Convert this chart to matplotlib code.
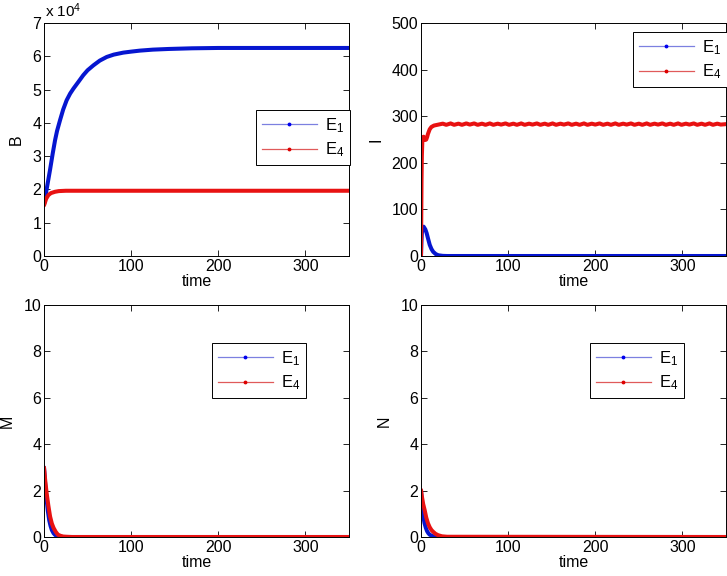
import matplotlib
matplotlib.use("Agg")
import matplotlib.pyplot as plt
from matplotlib.lines import Line2D

plt.rcParams['font.family'] = ['Liberation Sans', 'DejaVu Sans']
plt.rcParams['mathtext.fontset'] = 'custom'
plt.rcParams['mathtext.rm'] = 'Liberation Sans'
plt.rcParams['mathtext.it'] = 'Liberation Sans'

# ---- data ----
tB1 = [0, 1.2, 3, 5, 7, 10, 12.7, 15, 18.4, 22, 26, 30, 33.8, 40, 45, 50, 56.8, 64, 72,
       80, 91, 100, 110, 125, 143, 170, 200, 250, 350]
B1 = [1.55e4, 1.7e4, 2.0e4, 2.3e4, 2.6e4, 3.08e4, 3.48e4, 3.76e4, 4.08e4, 4.4e4, 4.68e4,
      4.88e4, 5.03e4, 5.25e4, 5.43e4, 5.58e4, 5.73e4, 5.87e4, 5.98e4, 6.05e4, 6.11e4,
      6.14e4, 6.17e4, 6.2e4, 6.22e4, 6.24e4, 6.25e4, 6.25e4, 6.25e4]
tB4 = [0, 1, 2.5, 5, 8, 12.7, 17, 25, 350]
B4 = [1.52e4, 1.6e4, 1.72e4, 1.83e4, 1.89e4, 1.93e4, 1.95e4, 1.96e4, 1.96e4]

tI1 = [0, 0.5, 1, 2, 3, 5, 6.5, 8, 10, 12, 14, 17, 20, 25, 30, 350]
I1 = [0, 30, 50, 60, 63, 57, 49, 38, 24, 15, 9, 4, 1.5, 0.3, 0, 0]
tI4 = [0, 0.3, 0.6, 1, 1.5, 2, 3, 4, 5, 6, 7, 8, 10, 12, 15, 20,
       25, 29, 34, 38, 43, 47, 52, 56, 61, 65, 70, 74, 79, 83, 88, 92, 97, 101,
       106, 110, 115, 119, 124, 128, 133, 137, 142, 146, 151, 155, 160, 164, 169, 173,
       178, 182, 187, 191, 196, 200, 205, 209, 214, 218, 223, 227, 232, 236, 241, 245,
       250, 254, 259, 263, 268, 272, 277, 281, 286, 290, 295, 299, 304, 308, 313, 317,
       322, 326, 331, 335, 340, 344, 350]
I4 = [0, 80, 160, 215, 245, 255, 256, 252, 249, 250, 255, 262, 272, 277, 280, 282,
      284, 281.5, 284.5, 281.5, 284, 281.5, 284.5, 282, 284.5, 281.5, 284, 281.5, 284.5, 281.5,
      284, 282, 284.5, 281.5, 284, 281.5, 284.5, 281.5, 284, 282, 284.5, 281.5, 284, 281.5,
      284.5, 281.5, 284, 282, 284.5, 281.5, 284, 281.5, 284.5, 281.5, 284, 282, 284.5, 281.5,
      284, 281.5, 284.5, 281.5, 284, 282, 284.5, 281.5, 284, 281.5, 284.5, 281.5, 284, 282,
      284.5, 281.5, 284, 281.5, 284.5, 281.5, 284, 282, 284.5, 281.5, 284, 281.5, 284.5,
      281.5, 284, 282, 283]

tM1 = [0, 1.5, 3, 4.5, 6, 7.5, 9, 11, 13, 15, 18, 22, 30, 350]
M1 = [3.0, 2.2, 1.6, 1.1, 0.72, 0.48, 0.3, 0.16, 0.08, 0.04, 0.01, 0, 0, 0]
tM4 = [0, 1.5, 3, 5, 7, 9, 11, 13.5, 16, 19, 22, 26, 32, 350]
M4 = [3.0, 2.4, 1.9, 1.35, 0.88, 0.58, 0.39, 0.22, 0.1, 0.05, 0.02, 0.01, 0, 0]

tN1 = [0, 1, 2, 3, 4, 5.5, 7, 8.5, 10, 12.5, 15, 20, 350]
N1 = [2.0, 1.5, 1.1, 0.82, 0.6, 0.4, 0.25, 0.16, 0.1, 0.05, 0.02, 0, 0]
tN4 = [0, 1, 2.5, 4.2, 6, 8, 10, 12, 13.8, 16.5, 19.5, 24, 30, 350]
N4 = [2.03, 1.75, 1.42, 1.16, 0.84, 0.59, 0.42, 0.3, 0.23, 0.14, 0.08, 0.03, 0.01, 0]

labels = [r'E$_1$', r'E$_4$']
c1, c4 = '#0616d0', '#e81212'

W, H = 727, 576
fig = plt.figure(figsize=(W / 100, H / 100), dpi=100)

def fx(px):
    return px / W

def fy(py):
    return 1 - py / H

# axes boxes in pixel coords (left, top, right, bottom)
boxes = [(44, 23, 349, 256), (421, 23, 726, 256), (44, 305, 349, 537), (421, 305, 726, 537)]
axs = []
for (l, t, r, b) in boxes:
    axs.append(fig.add_axes([fx(l), fy(b), fx(r - l), (b - t) / H]))

lw = 2.9
series = [
    (tB1, B1, tB4, B4, 'B', (0, 7e4)),
    (tI1, I1, tI4, I4, 'I', (0, 500)),
    (tM1, M1, tM4, M4, 'M', (0, 10)),
    (tN1, N1, tN4, N4, 'N', (0, 10)),
]
leg_pos = [(256, 110), (633, 32), (212, 343), (590, 343)]

for ax, (ta, ya, tb, yb, name, ylim), (lx, ly) in zip(axs, series, leg_pos):
    ax.plot(ta, ya, color=c1, lw=lw, solid_capstyle='round', solid_joinstyle='round')
    ax.plot(tb, yb, color=c4, lw=lw, solid_capstyle='round', solid_joinstyle='round')
    ax.set_xlim(0, 350)
    ax.set_ylim(*ylim)
    ax.set_xticks([0, 100, 200, 300])
    ax.tick_params(direction='in', top=True, right=True, labelsize=11.5, length=4, width=0.6, pad=2)
    for s in ax.spines.values():
        s.set_linewidth(0.7)
    ax.set_xlabel('time', fontsize=11.5, labelpad=0)
    ax.set_ylabel(name, fontsize=11.5, labelpad=6)
    handles = [Line2D([], [], color='#7c80e0', lw=0.9, marker='.', markersize=3.5,
                      markerfacecolor='#0000ee', markeredgecolor='#0000ee'),
               Line2D([], [], color='#e05a5a', lw=0.9, marker='.', markersize=3.5,
                      markerfacecolor='#dd0000', markeredgecolor='#dd0000')]
    leg = ax.legend(handles, labels, loc='upper left', bbox_to_anchor=(fx(lx), fy(ly)),
                    bbox_transform=fig.transFigure, fontsize=12, handlelength=3.3,
                    fancybox=False, framealpha=1, edgecolor='black',
                    borderpad=0.35, labelspacing=0.35, handletextpad=0.5, borderaxespad=0)
    leg.get_frame().set_linewidth(0.7)

# B axis scale
axs[0].set_yticks([0, 1e4, 2e4, 3e4, 4e4, 5e4, 6e4, 7e4])
axs[0].set_yticklabels([str(i) for i in range(8)])
fig.text(fx(45), fy(17), r'x 10$^4$', fontsize=11, va='baseline', ha='left')
axs[1].set_yticks([0, 100, 200, 300, 400, 500])
for ax in axs[2:]:
    ax.set_yticks([0, 2, 4, 6, 8, 10])

fig.savefig('out.png', dpi=100)
